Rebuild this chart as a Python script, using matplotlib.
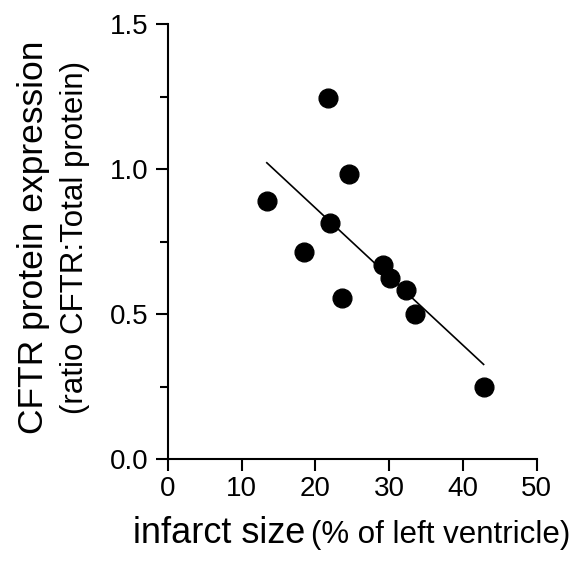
import numpy as np
import matplotlib
matplotlib.use("Agg")
import matplotlib.pyplot as plt
from matplotlib.ticker import MultipleLocator

plt.rcParams['font.family'] = ['Liberation Sans', 'DejaVu Sans']

# data
infarct = [21.7, 24.6, 13.4, 22.0, 18.4, 29.2, 30.1, 23.6, 32.3, 33.5, 42.8]
cftr = [1.246, 0.983, 0.890, 0.813, 0.713, 0.669, 0.625, 0.556, 0.583, 0.499, 0.249]
xticks = [0, 10, 20, 30, 40, 50]
yticks = [0.0, 0.5, 1.0, 1.5]

fig = plt.figure(figsize=(5.77, 5.61), dpi=100)
ax = fig.add_axes([168/577, 1 - 459/561, (536.7 - 168)/577, (459 - 24)/561])

# regression line over the data range
slope, icpt = np.polyfit(infarct, cftr, 1)
xl = np.array([min(infarct), max(infarct)])
ax.plot(xl, slope*xl + icpt, color='black', lw=1.2, zorder=2)

ax.plot(infarct, cftr, 'o', color='black', markersize=13.5, zorder=3)

ax.set_xlim(0, 50)
ax.set_ylim(0, 1.5)
ax.set_xticks(xticks)
ax.set_yticks(yticks)
ax.set_yticklabels(['%.1f' % v for v in yticks])
ax.yaxis.set_minor_locator(MultipleLocator(0.25))

for s in ['top', 'right']:
    ax.spines[s].set_visible(False)
for s in ['left', 'bottom']:
    ax.spines[s].set_linewidth(1.5)
ax.tick_params(which='major', length=8.5, width=1.5, labelsize=20)
ax.tick_params(axis='y', which='major', pad=5.5)
ax.tick_params(axis='x', which='major', pad=4)
ax.tick_params(which='minor', length=6, width=1.5)

# x label in two sizes
fig.canvas.draw()
r = fig.canvas.get_renderer()
t1 = fig.text(132.7/577, 1 - 543/561, 'infarct size', fontsize=26, va='baseline', ha='left')
bb = t1.get_window_extent(r)
fig.text((bb.x1 + 6)/577, 1 - 543/561, '(% of left ventricle)', fontsize=22.5, va='baseline', ha='left')

# y label in two sizes
fig.text(43/577, 1 - 237.5/561, 'CFTR protein expression', fontsize=25.5, rotation=90,
         rotation_mode='anchor', ha='center', va='baseline')
fig.text(83/577, 1 - 237.5/561, '(ratio CFTR:Total protein)', fontsize=22.5, rotation=90,
         rotation_mode='anchor', ha='center', va='baseline')

fig.savefig('out.png', dpi=100)
